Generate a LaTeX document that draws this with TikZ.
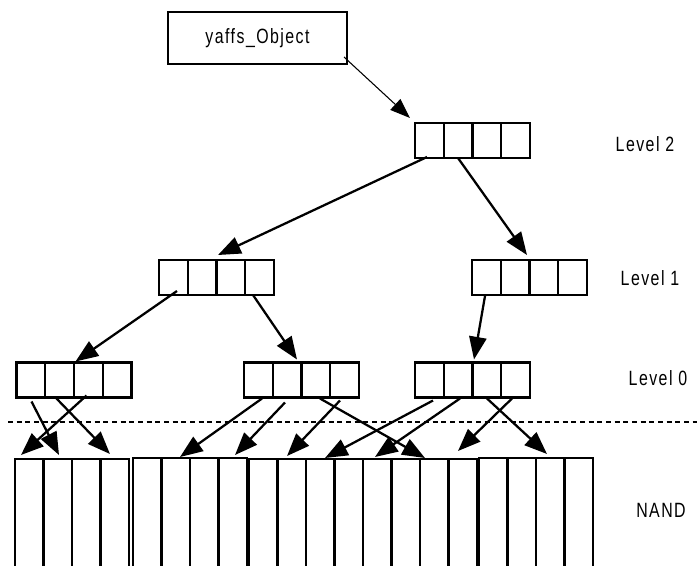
\documentclass[tikz,border=0pt]{standalone}
\usepackage{fontspec}
\setmainfont{Liberation Sans}[FakeStretch=0.77, LetterSpace=7]
\usetikzlibrary{arrows.meta,calc}
\begin{document}
\begin{tikzpicture}[x=0.75pt,y=-0.75pt,
  box4/.style={draw, line width=1.6pt, inner sep=0pt, outer sep=0pt, minimum width=86.25pt, minimum height=26.25pt},
  nandblk/.style={draw, line width=1.6pt, inner sep=0pt, outer sep=0pt, minimum height=87pt},
  objbox/.style={draw, line width=0.8pt, inner sep=0pt, outer sep=0pt, minimum width=134.25pt, minimum height=39pt, font=\fontsize{15.5pt}{18pt}\selectfont},
  div/.style={line width=1.6pt},
  arr/.style={line width=1.7pt, -{Triangle[length=17pt,width=13pt]}},
  thinarr/.style={line width=0.8pt, -{Triangle[length=15pt,width=11pt]}},
  lbl/.style={font=\fontsize{15.5pt}{18pt}\selectfont, inner sep=0pt},
  sep/.style={line width=2.1pt, dash pattern=on 3.8pt off 2.7pt},
]
\useasboundingbox (0,0) rectangle (697,565);
\clip (0,0) rectangle (697,565);

% object
\node[objbox] (yo) at (257.5,38) {yaffs\_Object};

% tree levels
\node[box4] (l2)  at (472.5,140.5) {};
\node[box4] (l1l) at (216.5,277.5) {};
\node[box4] (l1r) at (529.5,277.5) {};
\node[box4] (l0l) at (74,380) {};
\node[box4] (l0m) at (301.5,380) {};
\node[box4] (l0r) at (472.5,380) {};

% NAND blocks
\node[nandblk, minimum width=85.5pt] (nand1) at (72,517) {};
\node[nandblk, minimum width=85.5pt] (nand2) at (190,516) {};
\node[nandblk, minimum width=171pt]  (nand3) at (363,517) {};
\node[nandblk, minimum width=85.5pt] (nand4) at (536,516) {};

% cell dividers
\foreach \n/\k in {l2/4, l1l/4, l1r/4, l0l/4, l0m/4, l0r/4, nand1/4, nand2/4, nand3/8, nand4/4} {
  \pgfmathtruncatemacro\km{\k-1}
  \foreach \i in {1,...,\km} {
    \pgfmathsetmacro\f{\i/\k}
    \draw[div] ($(\n.north west)!\f!(\n.north east)$) -- ($(\n.south west)!\f!(\n.south east)$);
  }
}

% separator
\draw[sep] (8,422) -- (697,422);

% labels
\node[lbl] (lab2) at (645,144) {Level 2};
\node[lbl] (lab1) at (650,278) {Level 1};
\node[lbl] (lab0) at (658,378) {Level 0};
\node[lbl] (labn) at (661,510) {NAND};

% connectors
\draw[thinarr] ($(yo.south east)+(-3,-7)$) -- ($(l2.north west)+(-5,-5)$);
\draw[arr] ($(l2.south west)+(12,-1)$) -- ($(l1l.north west)+(59,-5)$);
\draw[arr] ($(l2.south west)+(43,0)$) -- ($(l1r.north west)+(55,-5)$);
\draw[arr] ($(l1l.south west)+(18,-4)$) -- ($(l0l.north west)+(59,-1)$);
\draw[arr] ($(l1l.south west)+(94,0)$) -- ($(l0m.north west)+(53,-3)$);
\draw[arr] ($(l1r.south west)+(13,1)$) -- ($(l0r.north west)+(59,-3)$);

\draw[arr] ($(l0l.south west)+(15,4)$) -- ($(nand1.north west)+(44,-4)$);
\draw[arr] ($(l0l.south west)+(40,1)$) -- ($(nand1.north west)+(95,-5)$);
\draw[arr] ($(l0l.south west)+(70,-2)$) -- ($(nand1.north west)+(6,-4)$);

\draw[arr] ($(l0m.south west)+(18,1)$) -- ($(nand2.north west)+(47,-1)$);
\draw[arr] ($(l0m.south west)+(41,5)$) -- ($(nand2.north west)+(102,-3)$);
\draw[arr] ($(l0m.south west)+(96,3)$) -- ($(nand3.north west)+(38,-3)$);
\draw[arr] ($(l0m.south west)+(76,1)$) -- ($(nand3.north west)+(176,-1)$);

\draw[arr] ($(l0r.south west)+(18,3)$) -- ($(nand3.north west)+(76,-1)$);
\draw[arr] ($(l0r.south west)+(45,1)$) -- ($(nand3.north west)+(126,-2)$);
\draw[arr] ($(l0r.south west)+(97,1)$) -- ($(nand3.north west)+(209,-8)$);
\draw[arr] ($(l0r.south west)+(72,1)$) -- ($(nand4.north west)+(68,-4)$);
\end{tikzpicture}
\end{document}
